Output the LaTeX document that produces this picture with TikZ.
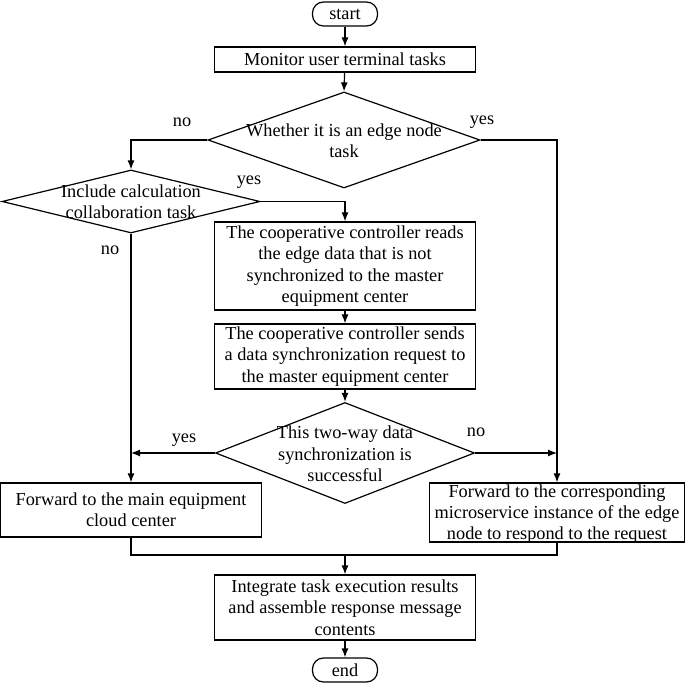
\documentclass[tikz,border=0pt]{standalone}
\usepackage{fontspec}
\setmainfont{Liberation Serif}
\usetikzlibrary{shapes.geometric,arrows.meta}
\begin{document}
\begin{tikzpicture}[x=1pt,y=-1pt,
  line width=1.2pt,
  txt/.style={font=\fontsize{18.3}{21.3}\selectfont},
  box/.style={draw,rectangle,inner sep=0pt,align=center,txt},
  term/.style={draw,rectangle,rounded corners=11pt,inner sep=0pt,minimum width=65pt,minimum height=24pt,txt},
  dia/.style={draw,diamond,inner sep=0pt},
  dtext/.style={align=center,inner sep=0pt,txt},
  lbl/.style={inner sep=0pt,txt},
  arr/.style={-{Latex[length=9pt,width=7pt]}}
]
\useasboundingbox (0,0) rectangle (685,684);
\node[term] (start) at (345,14) {start};
\node[box,minimum width=261pt,minimum height=25pt] (mon) at (345,59.5) {Monitor user terminal tasks};
\node[dia,minimum width=272pt,minimum height=96pt] (d1) at (344,140) {};
\node[dtext] (d1t) at (344,141) {Whether it is an edge node\\task};
\node[dia,minimum width=258pt,minimum height=63pt] (d2) at (131,201.5) {};
\node[dtext] (d2t) at (131,202) {Include calculation\\collaboration task};
\node[box,minimum width=261pt,minimum height=88pt] (b3) at (345,266) {The cooperative controller reads\\the edge data that is not\\synchronized to the master\\equipment center};
\node[box,minimum width=261pt,minimum height=65pt] (b4) at (345,356.5) {The cooperative controller sends\\a data synchronization request to\\the master equipment center};
\node[dia,minimum width=259pt,minimum height=101pt] (d3) at (345,453) {};
\node[dtext] (d3t) at (345,454) {This two-way data\\synchronization is\\successful};
\node[box,minimum width=261pt,minimum height=54pt] (b5) at (131,510) {Forward to the main equipment\\cloud center};
\node[draw,rectangle,inner sep=0pt,minimum width=255pt,minimum height=59pt] (b6) at (557,512.5) {};
\node[dtext] (b6t) at (557,514) {Forward to the corresponding\\microservice instance of the edge\\node to respond to the request};
\node[box,minimum width=261pt,minimum height=65pt] (b7) at (345,607.5) {Integrate task execution results\\and assemble response message\\contents};
\node[term] (end) at (345,670) {end};
\coordinate (m) at (345,555);
\coordinate (yl) at (131,453);
\coordinate (nr) at (557,453);
\node[lbl] (l1) at (182,122) {no};
\node[lbl] (l2) at (482,122) {yes};
\node[lbl] (l3) at (249,182) {yes};
\node[lbl] (l4) at (110,250) {no};
\node[lbl] (l5) at (184,440) {yes};
\node[lbl] (l6) at (476,432) {no};
\draw[arr] (start) -- (mon);
\draw[arr] (mon) -- (d1.north);
\draw[arr] (d1.west) -| (d2.north);
\draw[arr] (d1.east) -| (b6.north);
\draw[arr] (d2.east) -| (b3.north);
\draw[arr] (d2.south) -- (b5.north);
\draw[arr] (b3) -- (b4);
\draw[arr] (b4) -- (d3.north);
\draw[arr] (d3.west) -- (yl);
\draw[arr] (d3.east) -- (nr);
\draw (b5.south) |- (m) -| (b6.south);
\draw[arr] (m) -- (b7.north);
\draw[arr] (b7) -- (end);
\end{tikzpicture}
\end{document}
